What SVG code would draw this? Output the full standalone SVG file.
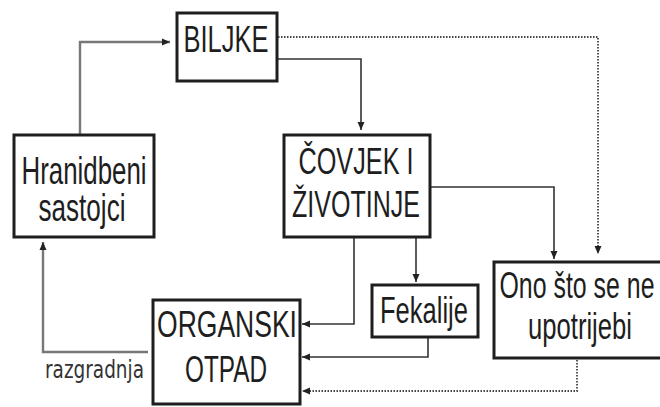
<svg xmlns="http://www.w3.org/2000/svg" width="660" height="407" viewBox="0 0 660 407">
<defs>
<style>
.box{fill:#fff;stroke:#1e1e1e;stroke-width:3}
.lbl{font-family:"Liberation Sans",Arial,sans-serif;font-size:36px;fill:#1e1e1e;text-anchor:middle}
.big{font-size:39px}
.small{font-family:"DejaVu Sans","Liberation Sans",sans-serif;font-size:24px;fill:#333}
.solid{fill:none;stroke:#333;stroke-width:1.6}
.gray{fill:none;stroke:#777;stroke-width:2.4}
.dot{fill:none;stroke:#444;stroke-width:1.8;stroke-dasharray:1.5 1.5}
</style>
<marker id="ah" viewBox="0 0 8 8" refX="8" refY="4" markerWidth="8" markerHeight="8" markerUnits="userSpaceOnUse" orient="auto">
<path d="M0,0.5 L8,4 L0,7.5 Z" fill="#222"/>
</marker>
</defs>
<rect width="660" height="407" fill="#fff"/>
<g id="connectors">
<polyline class="gray" points="80,135 80,42 170,42" marker-end="url(#ah)"/>
<polyline class="dot" points="278,37 598,37 598,254" marker-end="url(#ah)"/>
<polyline class="solid" points="278,59 361,59 361,130" marker-end="url(#ah)"/>
<polyline class="solid" points="431,187 554,187 554,259" marker-end="url(#ah)"/>
<polyline class="solid" points="354,238 354,324 302,324" marker-end="url(#ah)"/>
<polyline class="solid" points="416,238 416,282" marker-end="url(#ah)"/>
<polyline class="solid" points="428,338 428,357 302,357" marker-end="url(#ah)"/>
<polyline class="dot" points="577,360 577,391 302,391" marker-end="url(#ah)"/>
<polyline class="gray" points="148,352 43,352 43,242" marker-end="url(#ah)"/>
<text class="small" x="45" y="378" textLength="99" lengthAdjust="spacingAndGlyphs">razgradnja</text>
</g>
<g id="biljke">
<rect class="box" x="177" y="13" width="100" height="68"/>
<text class="lbl" x="226" y="52" textLength="85" lengthAdjust="spacingAndGlyphs">BILJKE</text>
</g>
<g id="hranidbeni">
<rect class="box" x="14" y="135" width="140" height="102"/>
<text class="lbl big" x="84" y="184" textLength="125" lengthAdjust="spacingAndGlyphs">Hranidbeni</text>
<text class="lbl big" x="82" y="221" textLength="87" lengthAdjust="spacingAndGlyphs">sastojci</text>
</g>
<g id="covjek">
<rect class="box" x="284" y="135" width="146" height="102"/>
<text class="lbl" x="356" y="174" textLength="115" lengthAdjust="spacingAndGlyphs">ČOVJEK I</text>
<text class="lbl" x="356" y="217" textLength="128" lengthAdjust="spacingAndGlyphs">ŽIVOTINJE</text>
</g>
<g id="fekalije">
<rect class="box" x="372" y="285" width="106" height="52"/>
<text class="lbl" x="424" y="323" textLength="88" lengthAdjust="spacingAndGlyphs">Fekalije</text>
</g>
<g id="ono">
<rect class="box" x="494" y="262" width="190" height="96"/>
<text class="lbl" x="577" y="298" textLength="155" lengthAdjust="spacingAndGlyphs">Ono što se ne</text>
<text class="lbl" x="580" y="339" textLength="104" lengthAdjust="spacingAndGlyphs">upotrijebi</text>
</g>
<g id="organski">
<rect class="box" x="153" y="300" width="147" height="104"/>
<text class="lbl" x="227" y="337" textLength="140" lengthAdjust="spacingAndGlyphs">ORGANSKI</text>
<text class="lbl" x="226" y="382" textLength="82" lengthAdjust="spacingAndGlyphs">OTPAD</text>
</g>
</svg>
